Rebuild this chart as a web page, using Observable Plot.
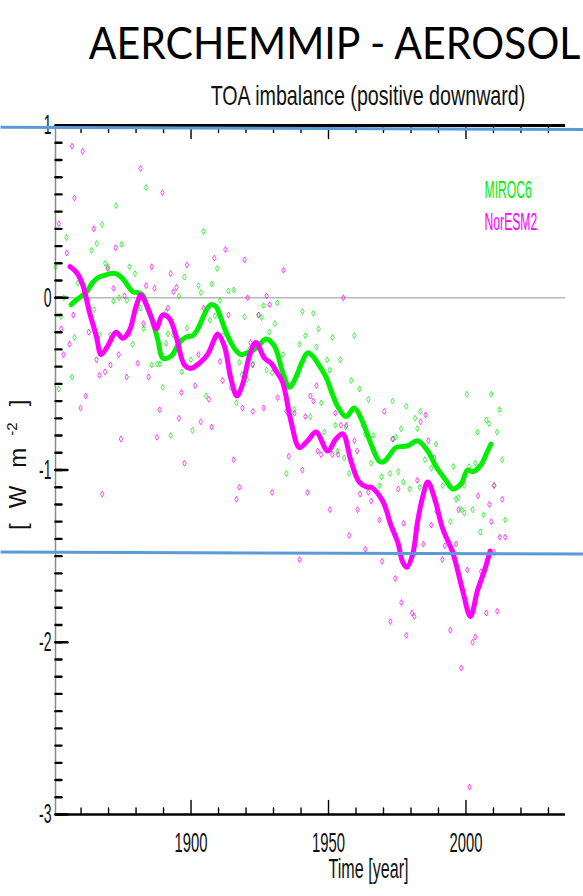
<!DOCTYPE html>
<html>
<head>
<meta charset="utf-8">
<script src="https://cdn.jsdelivr.net/npm/d3@7"></script>
<script src="https://cdn.jsdelivr.net/npm/@observablehq/plot@0.6"></script>
<style>
  html, body { margin: 0; padding: 0; background: #fff; }
  #chart { width: 583px; height: 896px; overflow: hidden; }
  #chart svg { overflow: visible; }
</style>
</head>
<body>
<div id="chart"></div>
<script>
// Annual-mean TOA imbalance [W m-2], [year, value]
const miroc6Annual = [
  [1850.7,0.18],[1851.9,-0.53],[1852.7,-0.11],[1853.7,0.0],[1854.7,0.35],[1856.7,-0.46],[1857.6,-0.23],[1858.8,0.085],
  [1859.8,0.12],[1862.8,-0.08],[1863.8,0.275],[1864.8,-0.07],[1865.7,0.315],[1866.7,-0.215],[1867.7,0.425],[1868.8,0.2],
  [1869.7,0.18],[1870.7,-0.215],[1871.8,-0.02],[1872.7,0.535],[1873.8,0.0],[1874.7,0.31],[1876.7,-0.015],[1877.6,0.18],
  [1878.8,-0.27],[1879.6,0.14],[1880.6,-0.06],[1881.5,-0.06],[1882.7,-0.18],[1883.6,0.64],[1885.7,-0.39],[1887.7,-0.385],
  [1888.6,-0.385],[1889.7,-0.52],[1890.9,-0.08],[1890.9,-0.265],[1891.6,-0.21],[1892.6,-0.80],[1893.5,-0.215],[1895.6,0.01],
  [1896.6,-0.43],[1897.6,0.12],[1898.5,-0.175],[1899.9,-0.36],[1900.5,-0.77],[1902.7,0.07],[1903.6,0.03],[1904.5,0.385],
  [1905.5,-0.57],[1906.9,-0.13],[1907.5,0.08],[1908.7,-0.105],[1909.5,0.17],[1910.5,-0.015],[1911.5,-0.22],[1912.5,-0.29],
  [1913.6,0.04],[1914.5,-0.52],[1915.5,0.045],[1916.5,-0.61],[1917.6,-0.375],[1918.5,-0.445],[1919.5,-0.11],[1920.4,-0.475],
  [1921.3,-0.30],[1922.5,-0.385],[1924.5,-0.10],[1925.6,-0.115],[1926.4,-0.045],[1927.5,-0.42],[1928.5,-0.2],[1929.5,-0.435],
  [1930.5,-0.15],[1931.4,-0.03],[1933.5,-0.33],[1934.7,-1.02],[1936.4,-0.69],[1937.5,-0.65],[1939.4,-0.27],[1940.5,-0.08],
  [1941.6,-0.22],[1943.4,-0.69],[1944.5,-0.09],[1945.6,-0.285],[1946.4,-0.18],[1947.4,-0.61],[1948.5,-0.78],[1949.5,-0.36],
  [1950.4,-0.42],[1951.5,-0.23],[1952.5,-0.74],[1953.3,-0.89],[1954.3,-0.36],[1955.7,-0.93],[1956.3,-0.75],[1957.5,-1.02],
  [1958.3,-0.48],[1959.4,-0.22],[1961.3,-0.53],[1962.4,-0.74],[1963.3,-0.79],[1964.5,-0.59],[1965.5,-0.96],[1966.3,-0.80],
  [1968.5,-1.09],[1969.3,-1.04],[1972.4,-1.02],[1973.3,-0.60],[1973.5,-0.82],[1974.5,-0.81],[1975.4,-1.01],[1976.4,-0.76],
  [1977.2,-1.07],[1978.3,-0.63],[1979.5,-1.11],[1981.5,-0.70],[1982.3,-0.76],[1983.2,-1.10],[1983.4,-0.66],[1985.1,-0.94],
  [1987.4,-0.99],[1988.5,-1.18],[1989.1,-0.85],[1991.5,-1.09],[1994.3,-1.30],[1995.4,-0.98],[1996.4,-1.17],[1997.2,-1.16],
  [1998.4,-1.23],[1999.3,-1.04],[1999.4,-1.25],[1999.4,-1.09],[2000.3,-0.56],[2001.1,-0.98],[2002.4,-1.23],[2003.4,-0.96],
  [2004.2,-0.78],[2005.2,-1.36],[2006.4,-1.26],[2007.4,-0.71],[2008.4,-0.73],[2009.2,-0.56],[2010.3,-1.09],[2011.3,-0.78],
  [2012.2,-0.65],[2013.2,-0.94],[2014.3,-1.29]
];

const noresm2Annual = [
  [1851.9,0.43],[1852.8,-0.18],[1853.6,-0.33],[1854.8,0.26],[1855.8,-0.27],[1856.7,0.88],[1857.2,-0.10],[1857.6,0.58],
  [1859.8,-0.64],[1860.6,0.85],[1861.7,-0.57],[1862.8,-0.20],[1864.6,0.40],[1865.6,-0.36],[1866.7,-0.45],[1867.7,-1.14],
  [1868.7,-0.43],[1869.7,0.17],[1870.7,-0.39],[1871.8,0.055],[1872.6,0.29],[1873.7,-0.33],[1874.5,-0.82],[1875.8,0.01],
  [1876.6,-0.46],[1877.6,-0.21],[1880.6,-0.38],[1881.6,0.75],[1882.7,-0.15],[1883.6,0.07],[1884.6,-0.46],[1885.7,0.18],
  [1886.7,0.055],[1887.6,-0.81],[1888.6,-0.65],[1889.6,0.61],[1891.6,-0.06],[1892.6,0.14],[1893.6,0.035],[1894.7,0.06],
  [1895.6,-0.70],[1896.5,-0.55],[1897.6,-0.96],[1898.5,0.19],[1901.5,-0.51],[1902.7,-0.33],[1903.5,-0.72],[1904.6,-0.06],
  [1906.5,-0.59],[1907.5,-0.75],[1908.5,0.23],[1910.5,-0.37],[1911.5,-0.48],[1912.5,0.28],[1913.6,-0.10],[1915.5,-0.94],
  [1916.5,-1.17],[1917.6,-1.10],[1918.7,-0.64],[1919.5,0.22],[1920.6,0.0],[1921.6,-0.26],[1922.4,-0.39],[1922.5,-0.66],
  [1924.6,-0.10],[1926.4,-0.64],[1927.5,0.01],[1928.6,-0.04],[1929.5,-1.13],[1931.5,-0.58],[1933.6,0.16],[1934.7,-0.66],
  [1935.5,-0.92],[1937.6,-0.67],[1939.5,-1.52],[1940.5,-1.00],[1941.6,-0.69],[1942.4,-1.13],[1943.4,-0.57],[1944.5,-0.60],
  [1945.6,-0.51],[1946.1,-0.89],[1947.3,-0.91],[1950.5,-1.23],[1951.4,-0.91],[1952.5,-0.67],[1953.5,-0.91],[1954.5,-0.74],
  [1955.4,0.0],[1956.5,-0.74],[1957.5,-1.38],[1959.4,-0.83],[1960.4,-0.89],[1960.6,-1.23],[1961.5,-1.14],[1963.4,-1.46],
  [1964.5,-1.13],[1965.5,-1.18],[1968.5,-1.29],[1969.5,-1.53],[1970.3,-0.66],[1972.5,-1.88],[1973.3,-0.82],[1974.3,-1.63],
  [1975.4,-1.11],[1976.5,-1.77],[1977.3,-1.31],[1978.3,-1.96],[1980.4,-1.83],[1981.2,-1.85],[1982.3,-1.06],[1983.5,-0.72],
  [1984.5,-1.43],[1985.3,-0.68],[1986.3,-0.83],[1987.4,-1.32],[1988.5,-0.93],[1989.3,-1.24],[1991.4,-1.52],[1992.3,-1.44],
  [1994.3,-1.93],[1995.3,-1.47],[1996.4,-1.43],[1997.3,-1.23],[1998.3,-2.15],[2000.5,-1.58],[2001.3,-2.84],[2002.4,-2.00],
  [2003.4,-1.97],[2004.4,-1.15],[2005.5,-1.59],[2007.4,-1.83],[2008.5,-1.20],[2009.2,-1.30],[2010.2,-1.09],[2010.3,-1.48],
  [2011.4,-1.82],[2012.3,-1.39],[2013.2,-1.17],[2014.3,-1.39]
];

// Running means, [year, value]
const miroc6Smooth = [
  [1856.4,-0.04],[1858.5,-0.01],[1861.8,0.03],[1864.3,0.09],[1866.5,0.12],[1868.5,0.13],[1870.5,0.14],[1872.7,0.14],
  [1875.2,0.11],[1877,0.07],[1878.8,0.035],[1880.5,0.03],[1882.4,0.015],[1884,-0.05],[1886.1,-0.14],[1888,-0.25],
  [1889.7,-0.35],[1892.7,-0.34],[1895.8,-0.26],[1898,-0.23],[1900.6,-0.22],[1902.5,-0.18],[1904.2,-0.12],[1906,-0.06],
  [1907.3,-0.04],[1909,-0.05],[1910.9,-0.12],[1912.5,-0.19],[1914.5,-0.26],[1916.5,-0.31],[1918.2,-0.33],[1920.5,-0.32],
  [1923,-0.30],[1925,-0.27],[1927.3,-0.24],[1930.3,-0.28],[1933.3,-0.43],[1935.8,-0.52],[1938.2,-0.46],[1940.2,-0.38],
  [1942.4,-0.32],[1944.3,-0.34],[1946.1,-0.38],[1949.1,-0.46],[1951.2,-0.55],[1953.3,-0.63],[1956.4,-0.69],[1959.4,-0.64],
  [1962.4,-0.72],[1963.6,-0.77],[1965.5,-0.85],[1968.5,-0.95],[1970.3,-0.95],[1972.4,-0.91],[1974.5,-0.87],[1978.8,-0.86],
  [1982.4,-0.83],[1986.1,-0.89],[1989.1,-0.98],[1992.7,-1.06],[1995.2,-1.11],[1998.2,-1.08],[2000.6,-1.0],[2002.4,-1.01],
  [2005.5,-0.97],[2007.3,-0.91],[2009.1,-0.85]
];

const noresm2Smooth = [
  [1856,0.18],[1858.2,0.15],[1860.6,0.075],[1863,-0.08],[1865.5,-0.22],[1867.3,-0.33],[1869.7,-0.28],[1872.7,-0.2],
  [1875.2,-0.235],[1877.6,-0.19],[1880,-0.05],[1881.8,0.015],[1883.6,-0.035],[1885.5,-0.11],[1887.3,-0.18],[1889.7,-0.10],
  [1892.1,-0.12],[1894.5,-0.22],[1897.6,-0.39],[1900,-0.41],[1903,-0.38],[1906,-0.33],[1908.5,-0.24],[1909.7,-0.21],
  [1912.1,-0.28],[1914.5,-0.47],[1916.7,-0.57],[1918.8,-0.50],[1921.2,-0.34],[1923.6,-0.26],[1926.7,-0.35],[1929.1,-0.38],
  [1931.5,-0.44],[1933.3,-0.49],[1936.4,-0.72],[1939.4,-0.87],[1942.4,-0.83],[1945.5,-0.78],[1949.7,-0.89],[1952.7,-0.82],
  [1955.2,-0.79],[1958.2,-0.95],[1961.2,-1.07],[1964.2,-1.10],[1965.5,-1.10],[1969.7,-1.18],[1972.7,-1.32],[1975.2,-1.42],
  [1977,-1.535],[1978.5,-1.565],[1980.6,-1.49],[1982.4,-1.30],[1984.2,-1.16],[1986.1,-1.07],[1988.5,-1.16],[1991.5,-1.34],
  [1995.2,-1.48],[1998.8,-1.70],[2001.6,-1.85],[2004.2,-1.70],[2006.7,-1.585],[2008.8,-1.47]
];

const seriesNames = ["MIROC6", "NorESM2"];
const seriesColors = ["#00ee00", "#ff00ff"];

const majorYears = [1900, 1950, 2000];
const minorYears = [1860, 1870, 1880, 1890, 1910, 1920, 1930, 1940, 1960, 1970, 1980, 1990, 2010, 2020, 2030];
const yMajorTicks = [1, 0, -1, -2, -3];
const yMinorTicks = d3.range(-30, 11).map(i => i / 10);

// Slide annotation lines in data units
const annotationLines = [
  {x1: 1830.7, y1: 0.99, x2: 2042.7, y2: 0.977},
  {x1: 1830.7, y1: -1.476, x2: 2042.7, y2: -1.488}
];

const titleText = "AERCHEMMIP - AEROSOL";
const subtitleText = "TOA imbalance (positive downward)";
const xTitle = "Time [year]";
const yTitle = "[W m-2]";

const xDomain = [1850.7, 2036.2];
const yDomain = [-3, 1];

const asPoints = rows => rows.map(([year, value]) => ({year, value}));

// tick shapes for Plot.vector
const tickRight = {draw(ctx, l) { ctx.moveTo(0, 0); ctx.lineTo(l, 0); }};
const tickUp = {draw(ctx, l) { ctx.moveTo(0, 0); ctx.lineTo(0, -l); }};
const tickDown = {draw(ctx, l) { ctx.moveTo(0, 0); ctx.lineTo(0, l); }};

const xTicks = (values, anchor, shape, length) =>
  Plot.vector(values, {x: d => d, frameAnchor: anchor, anchor: "start", length, shape, stroke: "#000", strokeWidth: 1.4});
const yTicks = (values, length) =>
  Plot.vector(values, {y: d => d, frameAnchor: "left", anchor: "start", length, shape: tickRight, stroke: "#000", strokeWidth: 2.4});

const label = (text, options) =>
  Plot.text([text], {text: d => d, lineAnchor: "middle", fill: "#111", ...options});

const svg = Plot.plot({
  width: 583,
  height: 896,
  marginTop: 125,
  marginBottom: 82,
  marginLeft: 55,
  marginRight: 18,
  x: {domain: xDomain, axis: null},
  y: {domain: yDomain, axis: null},
  style: {fontFamily: "'Liberation Sans', Arial, sans-serif", background: "#fff", overflow: "visible"},
  marks: [
    Plot.ruleY([0], {stroke: "#b8b8b8", strokeWidth: 1.6}),
    Plot.dot(asPoints(miroc6Annual), {x: "year", y: "value", symbol: "diamond", r: 1.8, stroke: seriesColors[0], strokeWidth: 0.9, strokeOpacity: 0.8, fill: "none"}),
    Plot.dot(asPoints(noresm2Annual), {x: "year", y: "value", symbol: "diamond", r: 1.8, stroke: seriesColors[1], strokeWidth: 0.9, strokeOpacity: 0.8, fill: "none"}),
    Plot.line(asPoints(miroc6Smooth), {x: "year", y: "value", stroke: seriesColors[0], strokeWidth: 5, curve: "catmull-rom", strokeLinejoin: "round", strokeLinecap: "round"}),
    Plot.line(asPoints(noresm2Smooth), {x: "year", y: "value", stroke: seriesColors[1], strokeWidth: 5, curve: "catmull-rom", strokeLinejoin: "round", strokeLinecap: "round"}),

    // frame
    Plot.ruleX([xDomain[0]], {stroke: "#8a8a8a", strokeWidth: 1.5}),
    Plot.ruleY([yDomain[1]], {stroke: "#000", strokeWidth: 3}),
    Plot.ruleY([yDomain[0]], {stroke: "#000", strokeWidth: 2.5}),
    xTicks(minorYears, "bottom", tickUp, 6.5),
    xTicks(majorYears, "bottom", tickUp, 14),
    xTicks(minorYears, "top", tickDown, 7),
    xTicks(majorYears, "top", tickDown, 13),
    yTicks(yMinorTicks, 6),
    yTicks(yMajorTicks, 12),

    // tick labels
    Plot.text(yMajorTicks, {y: d => d, text: d => String(d), frameAnchor: "left", textAnchor: "end", lineAnchor: "middle", dx: -4, fontSize: 28, fill: "#111"}),
    Plot.text(majorYears, {x: d => d, text: d => String(d), frameAnchor: "bottom", lineAnchor: "middle", dy: 29, fontSize: 28, fill: "#111"}),

    // titles
    label(xTitle, {frameAnchor: "bottom", dx: 58, dy: 55, fontSize: 28}),
    label(yTitle, {frameAnchor: "left", dx: -37, dy: -6, rotate: -90, fontSize: 24}),
    label(subtitleText, {frameAnchor: "top", dx: 57.5, dy: -29, fontSize: 28}),
    label(titleText, {frameAnchor: "top", dx: 24, dy: -81, fontSize: 44, fontFamily: "Lato, 'Open Sans', sans-serif", fill: "#000"}),

    // legend
    label(seriesNames[0], {frameAnchor: "top-left", dx: 429, dy: 65, textAnchor: "start", fontSize: 23, fill: seriesColors[0]}),
    label(seriesNames[1], {frameAnchor: "top-left", dx: 429, dy: 97, textAnchor: "start", fontSize: 23, fill: seriesColors[1]}),

    // slide annotation lines
    Plot.link(annotationLines, {x1: "x1", y1: "y1", x2: "x2", y2: "y2", stroke: "#5b9bd5", strokeWidth: 3})
  ]
});

document.getElementById("chart").append(svg);

// narrow lettering: fixed horizontal squeeze, or fit to a target width
const squeezeBy = new Map([
  ...yMajorTicks.map(d => [String(d), 0.5]),
  ...majorYears.map(d => [String(d), 0.53]),
  ...seriesNames.map(d => [d, 0.53])
]);
const fitTo = new Map([[titleText, 492], [subtitleText, 315], [xTitle, 80]]);
const addScale = (t, sx, sy = 1) =>
  t.setAttribute("transform", `${t.getAttribute("transform") || ""} scale(${sx},${sy})`);

for (const t of svg.querySelectorAll("text")) {
  const s = t.textContent;
  if (s === yTitle) {
    // spaced unit label with a raised exponent, centred on its anchor
    const ns = "http://www.w3.org/2000/svg";
    t.textContent = "";
    t.setAttribute("text-anchor", "start");
    const parts = [
      {s: "[", dx: -66},
      {s: "W", dx: 15},
      {s: "m", dx: 18},
      {s: "-2", dx: 12, dy: -9, size: 15},
      {s: "]", dx: 16, dy: 9}
    ];
    for (const p of parts) {
      const ts = document.createElementNS(ns, "tspan");
      ts.textContent = p.s;
      if (p.dx) ts.setAttribute("dx", p.dx);
      if (p.dy) ts.setAttribute("dy", p.dy);
      if (p.size) ts.setAttribute("font-size", p.size);
      t.appendChild(ts);
    }
  } else if (squeezeBy.has(s)) {
    addScale(t, squeezeBy.get(s));
  } else if (fitTo.has(s)) {
    const w = t.getBBox().width;
    if (w > 0) addScale(t, fitTo.get(s) / w);
  }
}
</script>
</body>
</html>
